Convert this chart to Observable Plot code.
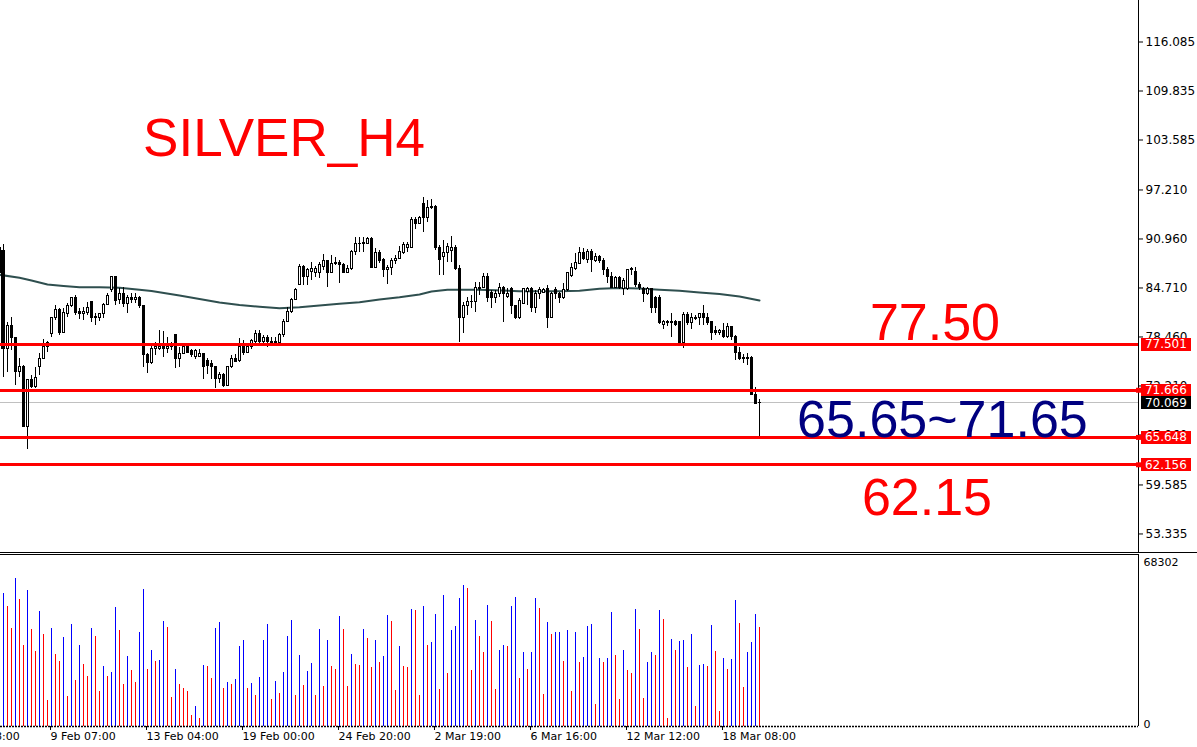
<!DOCTYPE html>
<html><head><meta charset="utf-8">
<script src="https://cdn.jsdelivr.net/npm/d3@7"></script>
<script src="https://cdn.jsdelivr.net/npm/@observablehq/plot@0.6"></script>
<style>html,body{margin:0;padding:0;background:#fff;overflow:hidden;} #chart svg{display:block;}</style>
</head><body><div id="chart"></div>
<script>
// ---- SILVER H4 candles (index 0..190) ----
const opens = [
 89.87,89.49,76.99,79.92,78.27,73.93,74.69,67.04,72.91,72.02,
 74.57,75.71,77.12,78.90,80.82,81.96,79.03,81.45,82.47,83.37,
 81.71,81.33,81.58,82.86,81.07,80.94,81.33,82.60,84.39,86.05,
 83.24,84.00,82.73,83.49,83.24,83.49,82.35,76.10,75.08,76.99,
 76.99,77.24,76.99,77.12,78.65,75.71,76.35,77.12,76.61,75.97,
 75.97,76.35,75.46,74.95,74.69,73.16,73.55,72.27,74.57,75.71,
 75.46,77.24,76.48,77.12,77.76,78.78,77.76,78.39,77.63,77.88,
 77.63,78.65,80.43,81.71,83.24,85.15,87.45,86.17,86.81,86.56,
 86.56,87.45,88.09,86.68,87.83,87.96,87.70,86.68,87.19,89.36,
 90.26,90.38,90.38,91.02,87.32,89.11,88.34,86.94,87.32,88.21,
 88.47,89.11,89.87,89.87,93.44,92.93,95.36,93.70,94.85,95.10,
 89.87,88.60,89.23,89.49,89.87,87.07,80.94,82.47,82.86,82.86,
 84.64,84.77,86.17,84.13,83.49,83.88,84.77,83.62,84.64,82.35,
 80.82,82.73,84.26,84.52,82.22,84.00,84.13,84.52,80.94,84.39,
 84.00,83.37,84.39,86.30,87.19,87.83,89.11,88.34,89.36,88.21,
 88.60,88.09,86.94,86.17,84.77,85.92,84.64,84.52,86.94,86.81,
 85.15,84.52,83.88,84.52,83.49,83.49,80.05,80.18,80.18,80.43,
 80.31,77.63,81.20,80.18,80.69,80.94,81.33,80.94,80.31,79.16,
 79.03,79.16,78.52,79.67,78.52,76.48,75.84,75.71,75.84,71.12,
 70.10];
const highs = [
 90.25,90.25,80.31,80.94,78.40,75.71,74.82,73.00,73.55,74.57,
 76.35,78.14,77.88,80.90,82.47,82.09,82.09,82.73,83.49,83.75,
 82.09,82.22,82.86,82.98,81.45,81.45,82.73,84.00,86.10,86.17,
 84.64,84.77,83.75,84.00,84.00,83.62,82.40,76.35,77.24,77.76,
 79.29,79.16,78.39,77.76,78.70,77.12,77.24,77.24,76.86,76.86,
 76.86,76.40,75.71,75.46,74.75,73.93,73.80,74.75,76.10,76.22,
 78.27,78.01,77.37,78.14,79.29,79.29,78.65,78.65,78.39,78.39,
 78.90,80.69,82.22,83.37,84.64,87.70,87.58,87.19,87.96,87.45,
 87.96,88.98,88.21,88.85,88.60,88.21,87.83,87.58,89.49,91.15,
 91.15,91.15,91.15,91.15,89.75,89.49,88.47,87.58,88.47,88.85,
 90.00,90.51,90.51,93.70,93.70,93.83,96.25,95.87,96.00,95.23,
 90.13,90.77,90.38,91.28,90.13,87.58,82.86,83.49,83.75,85.41,
 85.41,86.56,86.56,84.39,84.39,85.28,84.90,84.64,84.77,82.47,
 83.37,84.64,84.77,84.77,84.39,84.77,84.64,85.03,84.13,84.77,
 84.13,85.28,86.68,87.83,89.11,89.87,89.74,89.62,89.62,89.11,
 88.85,88.47,87.32,86.68,86.17,86.17,85.92,87.07,87.32,87.32,
 85.41,84.77,84.77,84.64,83.62,83.75,80.56,80.56,81.45,80.56,
 80.40,81.58,81.58,81.45,81.20,81.45,82.47,81.45,80.43,79.80,
 79.41,80.18,80.18,79.80,78.65,77.12,76.22,76.35,75.97,72.02,
 70.48];
const lows = [
 86.30,73.29,73.93,76.73,72.27,73.29,66.91,64.11,71.89,71.95,
 73.55,75.58,76.48,78.39,80.56,78.65,78.90,80.94,82.22,81.20,
 80.69,80.56,81.20,80.31,79.92,80.43,80.82,82.47,84.13,82.47,
 82.60,82.22,81.45,82.73,82.73,82.09,74.57,73.80,74.95,76.10,
 76.73,75.84,76.35,76.73,74.44,74.57,76.20,76.35,75.84,75.58,
 75.90,73.04,73.67,73.04,71.89,72.53,72.02,72.14,74.44,75.20,
 75.20,76.10,76.35,76.86,77.63,77.50,77.24,77.12,77.37,77.55,
 77.55,78.39,80.31,81.45,83.11,85.03,85.03,85.03,85.66,86.05,
 85.92,86.94,84.77,86.56,87.58,85.28,86.56,86.56,86.94,88.85,
 89.24,89.24,90.30,87.19,87.19,87.83,86.05,85.15,86.30,87.70,
 88.34,89.00,89.24,89.74,92.17,92.80,91.79,93.06,94.72,89.49,
 86.30,86.30,87.96,87.96,86.94,77.76,78.90,81.20,82.09,81.58,
 83.75,84.64,82.86,82.09,82.73,83.49,80.31,83.37,81.33,80.69,
 80.69,82.60,82.47,81.58,81.45,83.24,84.00,79.54,80.82,83.24,
 82.73,83.24,84.26,86.05,86.94,87.83,88.21,87.83,86.68,87.96,
 87.83,86.30,85.28,84.64,84.64,84.52,83.75,84.39,86.30,84.77,
 84.39,82.86,83.75,81.45,81.45,80.05,79.41,79.80,78.39,79.80,
 77.50,76.99,79.92,79.41,80.56,79.92,79.92,79.92,78.01,78.65,
 78.65,78.27,78.27,78.01,75.46,75.46,75.08,74.82,70.99,69.85,
 65.65];
const closes = [
 86.68,76.99,79.92,78.27,73.93,74.69,67.04,72.91,72.02,73.29,
 75.71,77.12,77.63,80.82,81.84,79.03,81.58,82.47,83.37,81.58,
 81.33,81.71,82.22,80.94,80.94,81.33,82.60,83.75,86.05,83.11,
 84.00,82.73,83.49,83.24,83.49,82.35,76.10,75.08,76.99,77.24,
 77.24,76.99,77.24,77.24,75.71,76.35,77.12,76.48,76.10,76.61,
 76.35,74.57,74.82,74.57,73.04,73.55,72.27,74.69,75.71,75.33,
 77.12,76.48,77.12,78.01,78.78,77.76,78.39,77.76,77.88,77.63,
 78.65,80.43,81.71,83.24,84.39,87.45,86.17,86.94,87.19,87.19,
 87.58,88.09,86.68,87.83,87.96,87.58,86.68,87.19,89.36,90.26,
 90.38,90.51,91.02,87.32,89.11,88.21,86.94,87.32,88.21,88.47,
 89.24,90.13,90.13,93.44,92.93,93.70,93.70,94.85,95.10,89.87,
 88.34,89.23,90.00,89.87,87.07,80.94,82.47,82.86,82.98,84.77,
 84.77,86.17,83.49,83.49,83.88,84.77,84.00,84.00,82.35,80.82,
 83.11,84.52,84.52,82.22,84.00,84.39,84.39,80.94,84.00,83.88,
 83.37,84.39,86.56,87.32,87.96,89.11,88.47,89.36,88.34,88.60,
 88.09,86.94,86.05,84.77,85.92,84.77,85.54,86.94,87.19,85.03,
 84.77,84.00,84.52,82.22,82.22,80.18,80.31,80.43,80.43,80.05,
 77.63,81.20,80.18,80.82,80.94,81.33,80.94,80.18,79.03,79.03,
 79.16,78.52,79.67,78.52,76.48,75.71,75.71,75.84,71.12,69.97,
 70.069];
const volumes = [
 35000,52974,47650,38998,58963,50312,32343,53906,38333,29681,
 45653,36336,10382,38998,28750,25955,35405,11979,40329,18368,
 32343,24757,19699,38998,35937,13976,23692,19965,21429,47251,
 38067,16771,27951,22095,17303,37268,54305,22760,30347,25955,
 26088,41660,39398,11713,22760,16771,14907,13976,4392,7986,
 3328,24357,23692,18900,38732,41128,14907,17569,16504,18501,
 31944,34074,14907,17170,12378,19300,34340,40329,10914,17969,
 12911,21562,35937,41927,12378,28350,16371,21962,25156,12378,
 38333,15972,34340,23958,22494,43524,38333,15972,28750,24757,
 24357,38333,35138,23293,34340,25289,27951,43923,41660,14375,
 31944,23958,23293,46319,46186,12378,47517,32343,33541,44322,
 14774,51909,21163,37934,39531,50711,55902,54704,22361,41927,
 35937,29548,47916,41527,14774,30347,32343,31944,47517,51110,
 19166,29548,22760,29548,50711,46718,12778,41128,36336,37135,
 37401,25955,37934,13976,37135,25555,27552,39531,40329,8785,
 27152,25555,27152,45121,28350,10781,30347,22361,21163,46319,
 38333,11180,25555,29548,28350,45920,42326,3194,34739,30347,
 33941,34340,23559,36336,8119,24357,24757,23958,39930,29948,
 5990,27152,22760,26753,49913,40729,15573,29548,33541,44322,
 39131];

// Moving average read at selected bars
const maIndex = [0,5,8,12,16,20,25,30,35,38,45,50,55,60,65,70,75,80,85,90,95,100,105,108,112,120,130,140,145,150,155,160,165,170,175,180,185,190];
const maValue = [86.39,86.01,85.66,85.15,84.96,84.81,84.81,84.73,84.48,84.32,83.75,83.30,82.86,82.54,82.31,82.13,82.26,82.47,82.69,82.90,83.24,83.53,83.88,84.26,84.48,84.48,84.30,84.30,84.35,84.60,84.71,84.64,84.48,84.35,84.13,83.94,83.62,83.11];

// Horizontal levels and price
const levels = [77.501, 71.666, 65.648, 62.156];
const lastPrice = 70.069;

// Axis ticks
const priceTicks = [116.085, 109.835, 103.585, 97.21, 90.96, 84.71, 78.46, 72.21, 65.96, 59.585, 53.335];
const timeTicks = [-11, 13, 37, 61, 85, 109, 133, 157, 181];
const timeLabels = ["5 Feb 08:00","9 Feb 07:00","13 Feb 04:00","19 Feb 00:00","24 Feb 20:00","2 Mar 19:00","6 Mar 16:00","12 Mar 12:00","18 Mar 08:00"];
const volMax = 68302;

// Annotations (bar index, price)
const redNotes = [
  {label: "SILVER_H4", k: 35.9, p: 103.72, size: 53},
  {label: "77.50", k: 217.6, p: 80.26, size: 52},
  {label: "62.15", k: 215.6, p: 57.93, size: 52}
];
const blueNotes = [
  {label: "65.65~71.65", k: 199.4, p: 67.88, size: 52}
];

// ---- scales ----
const xMin = 0.25, xMax = 284.75;
const yMin = 50.970, yMax = 121.379;

const candles = opens.map((o, i) => ({k: i, o, h: highs[i], l: lows[i], c: closes[i]}));
const bulls = candles.filter(d => d.c >= d.o);
const bears = candles.filter(d => d.c < d.o);
const ma = maIndex.map((k, i) => ({k, v: maValue[i]}));
const vol = volumes.map((v, i) => ({k: i, v, up: i === 0 || v > volumes[i - 1]}));
const upVol = vol.filter(d => d.up);
const downVol = vol.filter(d => !d.up);

const baseStyle = {background: "#fff", color: "#000", fontFamily: "'DejaVu Sans', sans-serif", fontSize: "11px", overflow: "visible"};
const crisp = {shapeRendering: "crispEdges"};

const main = Plot.plot({
  width: 1197, height: 553,
  marginTop: 0, marginRight: 59, marginBottom: 1, marginLeft: 0,
  x: {domain: [xMin, xMax], axis: null},
  y: {domain: [yMin, yMax], axis: null},
  style: baseStyle,
  marks: [
    Plot.axisY({anchor: "right", ticks: priceTicks, tickFormat: d => d.toFixed(3), tickSize: 4, tickPadding: 3, fontSize: 12, stroke: "#000", fill: "#000", label: null}),
    Plot.ruleX([xMax], {stroke: "#000", ...crisp}),
    Plot.ruleY([yMin], {x1: xMin, x2: xMax + 16, stroke: "#000", ...crisp}),
    Plot.ruleY([lastPrice], {stroke: "#c0c0c0", ...crisp}),
    Plot.line(ma, {x: "k", y: "v", stroke: "#2f4f4f", strokeWidth: 2}),
    Plot.ruleX(candles, {x: "k", y1: "l", y2: "h", stroke: "#000", ...crisp}),
    Plot.rect(bulls, {x1: d => d.k - 0.25, x2: d => d.k + 0.25, y1: "o", y2: "c", fill: "#fff", stroke: "#000", ...crisp}),
    Plot.rect(bears, {x1: d => d.k - 0.25, x2: d => d.k + 0.25, y1: "o", y2: "c", fill: "#000", stroke: "#000", ...crisp}),
    Plot.ruleY(levels, {stroke: "#ff0000", strokeWidth: 3, ...crisp}),
    Plot.dot(levels.slice(1), {y: d => d, frameAnchor: "right", symbol: "square", r: 2.8, fill: "#ff0000"}),
    Plot.ruleY(levels, {x1: xMax + 0.75, x2: xMax + 13.25, stroke: "#ff0000", strokeWidth: 13, ...crisp}),
    Plot.ruleY([lastPrice], {x1: xMax + 0.75, x2: xMax + 13.25, stroke: "#000", strokeWidth: 13, ...crisp}),
    Plot.text(levels, {y: d => d, x: xMax + 1.6, text: d => d.toFixed(3), fill: "#fff", textAnchor: "start", fontSize: 12}),
    Plot.text([lastPrice], {y: d => d, x: xMax + 1.6, text: d => d.toFixed(3), fill: "#fff", textAnchor: "start", fontSize: 12}),
    Plot.text(redNotes, {x: "k", y: "p", text: "label", fill: "#ff0000", fontSize: d => d.size, fontFamily: "'Liberation Sans', Arial, sans-serif", textAnchor: "start"}),
    Plot.text(blueNotes, {x: "k", y: "p", text: "label", fill: "#000080", fontSize: d => d.size, fontFamily: "'Liberation Sans', Arial, sans-serif", textAnchor: "start"})
  ]
});

const volPlot = Plot.plot({
  width: 1197, height: 194,
  marginTop: 1, marginRight: 59, marginBottom: 21, marginLeft: 0,
  x: {domain: [xMin, xMax], axis: null, label: null},
  y: {domain: [0, volMax], axis: null},
  style: baseStyle,
  marks: [
    Plot.ruleY([volMax], {stroke: "#000", ...crisp}),
    Plot.ruleX([xMax], {stroke: "#000", ...crisp}),
    Plot.ruleX(upVol, {x: "k", y1: 0, y2: "v", stroke: "#0000ff", strokeWidth: 1, ...crisp}),
    Plot.ruleX(downVol, {x: "k", y1: 0, y2: "v", stroke: "#ff0000", strokeWidth: 1, ...crisp}),
    Plot.ruleY([0], {stroke: "#000", strokeDasharray: "2,1", strokeWidth: 1.5}),
    Plot.axisX({anchor: "bottom", ticks: timeTicks, tickFormat: d => timeLabels[timeTicks.indexOf(d)], tickSize: 4, tickPadding: 2, textAnchor: "start", fontSize: 11, dx: -1, stroke: "#000", fill: "#000", label: null}),
    Plot.text([volMax], {y: d => d, frameAnchor: "right", dx: 5, dy: 4, textAnchor: "start", lineAnchor: "top", text: d => String(d), fontSize: 11, fill: "#000"}),
    Plot.text([0], {y: d => d, frameAnchor: "right", dx: 5, dy: 1, textAnchor: "start", lineAnchor: "bottom", text: d => String(d), fontSize: 11, fill: "#000"})
  ]
});

document.getElementById("chart").append(main, volPlot);
</script>
</body></html>
